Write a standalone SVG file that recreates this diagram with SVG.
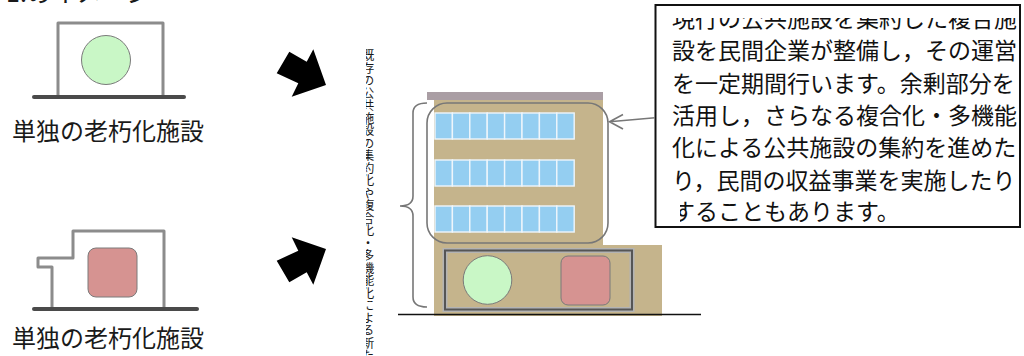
<svg xmlns="http://www.w3.org/2000/svg" width="1024" height="356" viewBox="0 0 1024 356">
  <style>
    .jp { font-family: "Noto Sans CJK JP", "Noto Sans", sans-serif; fill: #1a1a1a; }
    .label { font-size: 24px; }
    .note { font-size: 23px; fill: #111; }
    .wall { fill: none; stroke: #8c8c8c; stroke-width: 3; stroke-linejoin: round; }
    .ground { stroke: #4a4a4a; stroke-width: 4; stroke-linecap: round; }
    .green { fill: #c9f7c6; stroke: #7a7a7a; stroke-width: 1; }
    .red { fill: #d69391; stroke: #7a7a7a; stroke-width: 1; }
    .tan { fill: #c5b48c; }
    .pane { fill: #94cef1; stroke: #eef6fb; stroke-width: 1.4; }
    .thin { fill: none; stroke: #777; stroke-width: 1.6; }
    .block { fill: #000; }
  </style>
  <defs>
    <clipPath id="noteClip">
      <path d="M656,18 H1020 V227 H680 V200 H656 Z"/>
    </clipPath>
    <clipPath id="sideClip">
      <rect x="366" y="40" width="14" height="316"/>
    </clipPath>
    <!-- one row of eight window panes -->
    <g id="windowRow">
      <rect class="pane" x="435" y="0" width="17.4" height="26"/>
      <rect class="pane" x="452.4" y="0" width="17.4" height="26"/>
      <rect class="pane" x="469.8" y="0" width="17.4" height="26"/>
      <rect class="pane" x="487.2" y="0" width="17.4" height="26"/>
      <rect class="pane" x="504.6" y="0" width="17.4" height="26"/>
      <rect class="pane" x="522" y="0" width="17.4" height="26"/>
      <rect class="pane" x="539.4" y="0" width="17.4" height="26"/>
      <rect class="pane" x="556.8" y="0" width="17.4" height="26"/>
    </g>
  </defs>

  <rect width="1024" height="356" fill="#ffffff"/>

  <!-- heading, cut off at the top edge -->
  <g id="heading">
    <text class="jp" x="6" y="2" font-size="25">1.のイメージ</text>
  </g>

  <!-- single ageing facility (round function) -->
  <g id="facility-a">
    <rect class="wall" x="58" y="23" width="105" height="74"/>
    <circle class="green" cx="106" cy="60" r="24.5"/>
    <line class="ground" x1="34" y1="97" x2="184" y2="97"/>
    <text class="jp label" x="12" y="140">単独の老朽化施設</text>
  </g>

  <!-- single ageing facility (square function) -->
  <g id="facility-b">
    <path class="wall" d="M52,308 V267 H38 V258 H73 V231 H164 V308"/>
    <rect class="red" x="88" y="248" width="49" height="49" rx="8"/>
    <line class="ground" x1="34" y1="309" x2="197" y2="309"/>
    <text class="jp label" x="12" y="347">単独の老朽化施設</text>
  </g>

  <!-- vertical caption, cut off on its left half -->
  <g id="side-label" clip-path="url(#sideClip)">
    <text class="jp" x="368" y="49" font-size="12.5" writing-mode="tb" style="writing-mode: vertical-rl">既存の公共施設の集約化や複合化・多機能化による新たな施設整備</text>
  </g>

  <!-- combined facility building -->
  <g id="complex-building">
    <rect x="427" y="92" width="176" height="8" fill="#aa9ea4"/>
    <rect class="tan" x="434" y="100" width="169" height="150"/>
    <rect class="tan" x="434" y="245" width="228" height="71"/>
    <use href="#windowRow" y="113"/>
    <use href="#windowRow" y="160"/>
    <use href="#windowRow" y="206"/>
    <rect class="thin" x="427" y="103" width="181" height="140" rx="20" stroke-width="2"/>
    <rect x="445" y="250.5" width="187" height="59" fill="none" stroke="#b3b3b3" stroke-width="5"/>
    <rect x="445" y="250.5" width="187" height="59" fill="none" stroke="#555" stroke-width="2"/>
    <circle class="green" cx="487.5" cy="280" r="24.3"/>
    <rect class="red" x="561" y="256" width="49" height="49" rx="7"/>
    <line x1="398" y1="314.5" x2="701" y2="314.5" stroke="#111" stroke-width="1.5"/>
    <path class="thin" d="M427,103 Q413,103 413,113 V196 Q413,206 400,206 Q413,206 413,216 V297 Q413,307 427,307"/>
  </g>

  <!-- explanatory note -->
  <g id="note">
    <rect x="655.5" y="5" width="364.5" height="222" fill="#fff" stroke="#111" stroke-width="2"/>
    <g clip-path="url(#noteClip)">
      <text class="jp note" x="672" y="27">現行の公共施設を集約した複合施</text>
      <text class="jp note" x="672" y="59">設を民間企業が整備し，その運営</text>
      <text class="jp note" x="672" y="91.5">を一定期間行います。余剰部分を</text>
      <text class="jp note" x="672" y="124">活用し，さらなる複合化・多機能</text>
      <text class="jp note" x="672" y="156">化による公共施設の集約を進めた</text>
      <text class="jp note" x="672" y="188.5">り，民間の収益事業を実施したり</text>
      <text class="jp note" x="672" y="220">することもあります。</text>
    </g>
  </g>

  <!-- connectors -->
  <g id="connectors">
    <polygon class="block" points="276.7,73.3 289.3,51.7 306.7,61.7 313.3,49.3 326,85 291.7,96.7 298.3,83.3"/>
    <polygon class="block" points="276.7,260.7 289.3,282.3 306.7,272.3 313.3,284.7 326,249 291.7,237.3 298.3,250.7"/>
    <path class="thin" d="M655,117.7 L609.5,121.7 M623,114.5 L609.5,121.7 L623,129"/>
  </g>
</svg>
